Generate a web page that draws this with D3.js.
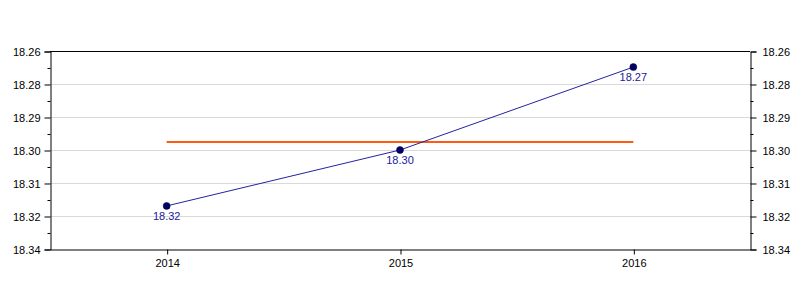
<!DOCTYPE html>
<html>
<head>
<meta charset="utf-8">
<script src="https://cdn.jsdelivr.net/npm/d3@7"></script>
<style>
body { margin: 0; background: #fff; }
svg text { font-family: "Liberation Sans", Arial, sans-serif; font-size: 11px; }
</style>
</head>
<body>
<div id="chart"></div>
<script>
var years = [2014, 2015, 2016];
var values = [18.3226, 18.30, 18.2665];
var valueLabels = ["18.32", "18.30", "18.27"];
var refLine = [{year: 2014, value: 18.2968}, {year: 2016, value: 18.2968}];
var tickValues = [18.26, 18.27333, 18.28667, 18.30, 18.31333, 18.32667, 18.34];
var tickLabels = ["18.26", "18.28", "18.29", "18.30", "18.31", "18.32", "18.34"];

var width = 800, height = 300;
var margin = {top: 51, right: 50, bottom: 51, left: 50};

var xScale = d3.scaleLinear().domain([2013.5, 2016.5]).range([margin.left, width - margin.right]);
var yScale = d3.scaleLinear().domain([18.26, 18.34]).range([margin.top, height - margin.bottom]);

var minorTicks = [];
for (var i = 0; i < tickValues.length - 1; i++) {
    minorTicks.push((tickValues[i] + tickValues[i + 1]) / 2);
}

var svg = d3.select("#chart").append("svg")
    .attr("width", width)
    .attr("height", height);

// grid lines
svg.append("g")
    .selectAll("line")
    .data(tickValues.slice(1, -1))
    .enter().append("line")
        .attr("x1", margin.left).attr("x2", width - margin.right)
        .attr("y1", function(d) { return Math.round(yScale(d)) + 0.5; })
        .attr("y2", function(d) { return Math.round(yScale(d)) + 0.5; })
        .attr("stroke", "#d9d9d9")
        .attr("stroke-width", 1);

// frame top
svg.append("line")
    .attr("x1", margin.left).attr("x2", width - margin.right)
    .attr("y1", margin.top + 0.5).attr("y2", margin.top + 0.5)
    .attr("stroke", "#000");

function fmt(d) { return tickLabels[tickValues.indexOf(d)]; }

var yLeft = d3.axisLeft(yScale).tickValues(tickValues).tickFormat(fmt).tickSize(6).tickPadding(4);
var yRight = d3.axisRight(yScale).tickValues(tickValues).tickFormat(fmt).tickSize(6).tickPadding(6);

svg.append("g").attr("class", "axis")
    .attr("transform", "translate(" + (margin.left + 0.5) + ",0.5)")
    .call(yLeft);
svg.append("g").attr("class", "axis")
    .attr("transform", "translate(" + (width - margin.right + 0.5) + ",0.5)")
    .call(yRight);

svg.append("g")
    .attr("transform", "translate(" + (margin.left + 0.5) + ",0.5)")
    .call(d3.axisLeft(yScale).tickValues(minorTicks).tickFormat("").tickSize(3).tickSizeOuter(0))
    .select(".domain").remove();
svg.append("g")
    .attr("transform", "translate(" + (width - margin.right + 0.5) + ",0.5)")
    .call(d3.axisRight(yScale).tickValues(minorTicks).tickFormat("").tickSize(3).tickSizeOuter(0))
    .select(".domain").remove();

var xAxis = d3.axisBottom(xScale).tickValues(years).tickFormat(d3.format("d")).tickSize(5).tickSizeOuter(0).tickPadding(5);
svg.append("g").attr("class", "axis")
    .attr("transform", "translate(0.5," + (height - margin.bottom + 0.5) + ")")
    .call(xAxis);

svg.selectAll(".axis text").attr("fill", "#000");
svg.selectAll(".axis path, .axis line").attr("stroke", "#000");

// reference line
var line = d3.line()
    .x(function(d) { return xScale(d.year); })
    .y(function(d) { return yScale(d.value); });

svg.append("path")
    .attr("d", line(refLine))
    .attr("fill", "none")
    .attr("stroke", "#ff5a14")
    .attr("stroke-width", 2);

var points = years.map(function(y, i) { return {year: y, value: values[i], label: valueLabels[i]}; });

svg.append("path")
    .attr("d", line(points))
    .attr("fill", "none")
    .attr("stroke", "#2323a0")
    .attr("stroke-width", 1);

svg.selectAll(".dot")
    .data(points)
    .enter().append("circle")
        .attr("cx", function(d) { return xScale(d.year); })
        .attr("cy", function(d) { return yScale(d.value); })
        .attr("r", 3.5)
        .attr("fill", "#000066")
        .attr("stroke", "#000033")
        .attr("stroke-width", 0.5);

svg.selectAll(".lbl")
    .data(points)
    .enter().append("text")
        .attr("x", function(d) { return xScale(d.year); })
        .attr("y", function(d) { return yScale(d.value) + 14; })
        .attr("text-anchor", "middle")
        .attr("fill", "#1a1a9a")
        .text(function(d) { return d.label; });
</script>
</body>
</html>
